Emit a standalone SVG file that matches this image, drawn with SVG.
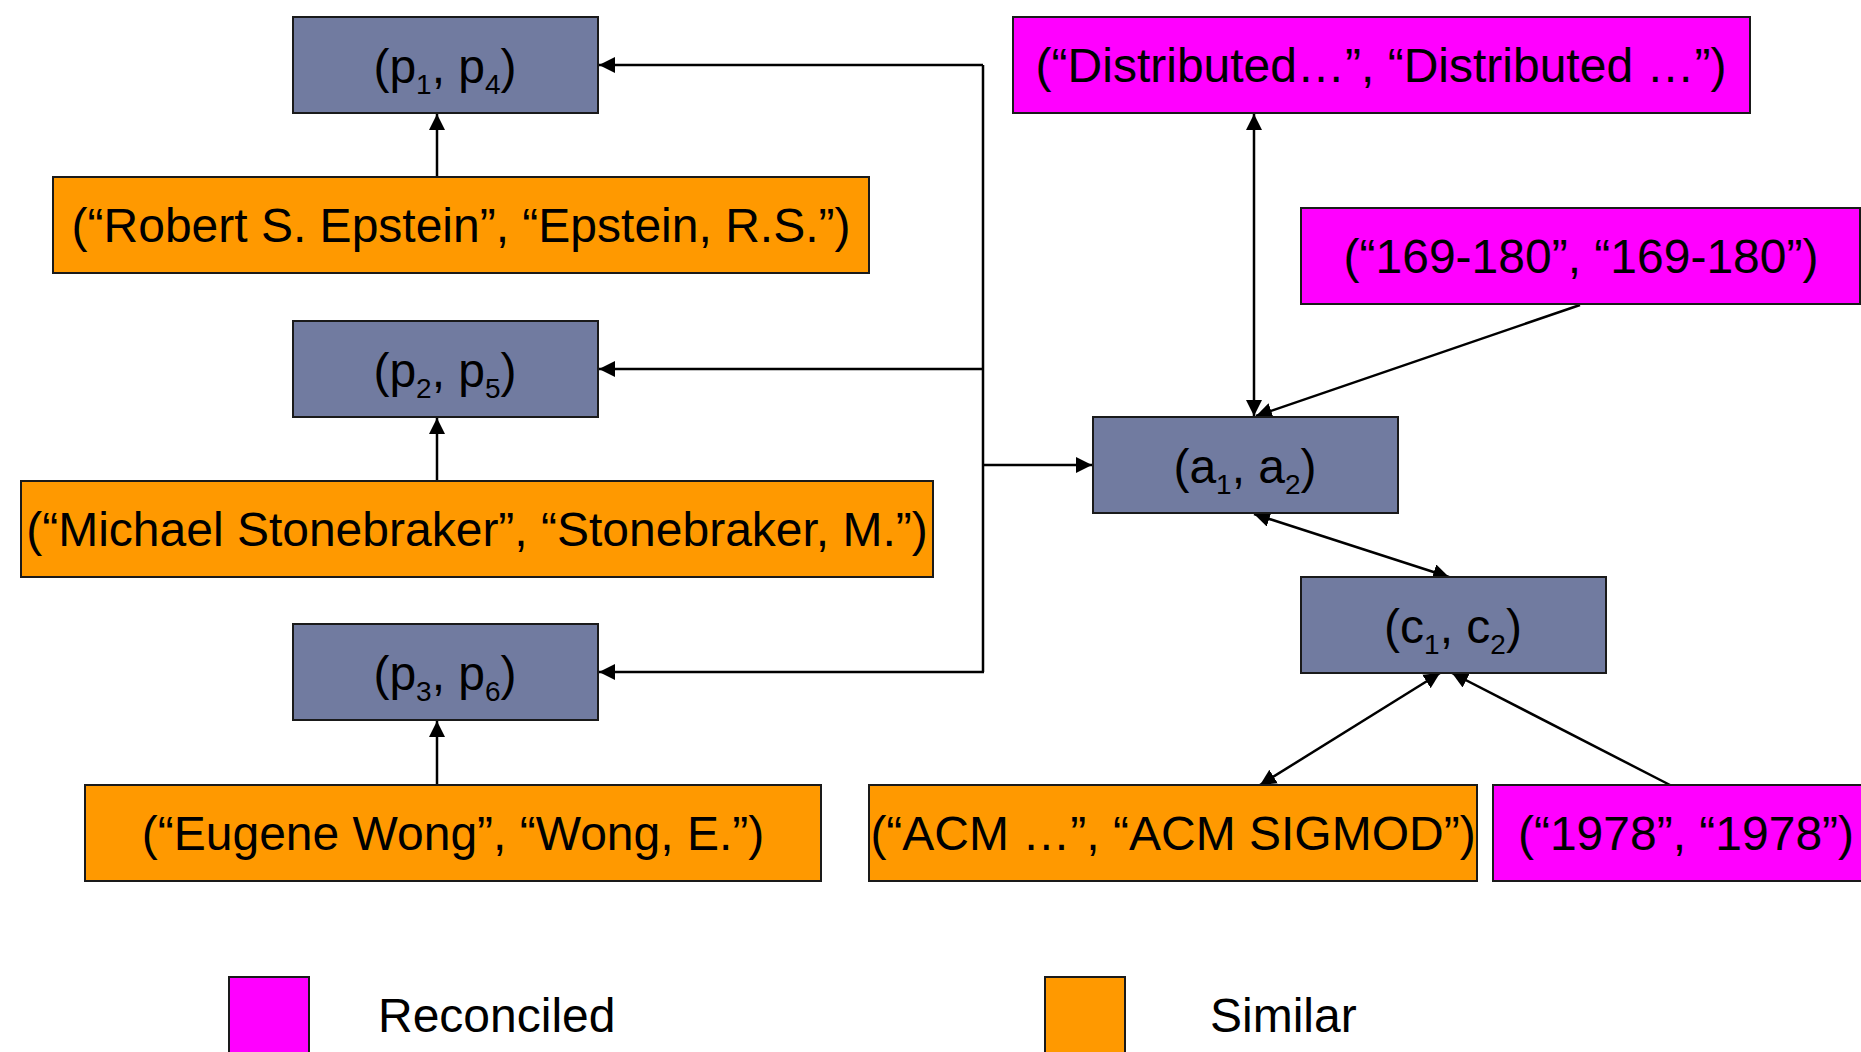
<svg xmlns="http://www.w3.org/2000/svg" width="1861" height="1052" viewBox="0 0 1861 1052">
<style>
  .box { stroke: #1a1a1a; stroke-width: 2; }
  .pair { fill: #717BA0; }
  .sim { fill: #FF9900; }
  .rec { fill: #FF00FF; }
  text { font-family: "Liberation Sans", Arial, sans-serif; fill: #000; }
  .lbl { font-size: 48px; text-anchor: middle; }
  .pl { font-size: 48px; text-anchor: middle; }
  .sub { font-size: 28px; }
  .leg { font-size: 48px; }
  .conn { stroke: #000; stroke-width: 2.5; fill: none; }
</style>
<defs>
  <marker id="ah" markerUnits="userSpaceOnUse" markerWidth="18" markerHeight="16" refX="16" refY="8" orient="auto-start-reverse" viewBox="0 0 18 16">
    <path d="M0,0 L16,8 L0,16 Z" fill="#000"/>
  </marker>
</defs>
<rect width="1861" height="1052" fill="#fff"/>

<g id="connectors">
  <line class="conn" x1="437" y1="177" x2="437" y2="114" marker-end="url(#ah)"/>
  <line class="conn" x1="437" y1="481" x2="437" y2="418" marker-end="url(#ah)"/>
  <line class="conn" x1="437" y1="785" x2="437" y2="721" marker-end="url(#ah)"/>
  <polyline class="conn" points="983,65 983,672"/>
  <line class="conn" x1="983" y1="65" x2="599" y2="65" marker-end="url(#ah)"/>
  <line class="conn" x1="983" y1="369" x2="599" y2="369" marker-end="url(#ah)"/>
  <line class="conn" x1="984" y1="672" x2="599" y2="672" marker-end="url(#ah)"/>
  <line class="conn" x1="983" y1="465" x2="1092" y2="465" marker-end="url(#ah)"/>
  <line class="conn" x1="1254" y1="114" x2="1254" y2="416" marker-start="url(#ah)" marker-end="url(#ah)"/>
  <line class="conn" x1="1580" y1="305" x2="1256" y2="416" marker-end="url(#ah)"/>
  <line class="conn" x1="1254" y1="514" x2="1449" y2="577" marker-start="url(#ah)" marker-end="url(#ah)"/>
  <line class="conn" x1="1260" y1="785" x2="1440" y2="673" marker-start="url(#ah)" marker-end="url(#ah)"/>
  <line class="conn" x1="1670" y1="785" x2="1452" y2="673" marker-end="url(#ah)"/>
</g>

<g id="p1p4">
  <rect class="box pair" x="293" y="17" width="305" height="96"/>
  <text class="pl" x="445" y="83">(p<tspan class="sub" dy="11">1</tspan><tspan dy="-11">, p</tspan><tspan class="sub" dy="11">4</tspan><tspan dy="-11">)</tspan></text>
</g>
<g id="robert">
  <rect class="box sim" x="53" y="177" width="816" height="96"/>
  <text class="lbl" x="461" y="242">(“Robert S. Epstein”, “Epstein, R.S.”)</text>
</g>
<g id="p2p5">
  <rect class="box pair" x="293" y="321" width="305" height="96"/>
  <text class="pl" x="445" y="387">(p<tspan class="sub" dy="11">2</tspan><tspan dy="-11">, p</tspan><tspan class="sub" dy="11">5</tspan><tspan dy="-11">)</tspan></text>
</g>
<g id="michael">
  <rect class="box sim" x="21" y="481" width="912" height="96"/>
  <text class="lbl" x="477" y="546">(“Michael Stonebraker”, “Stonebraker, M.”)</text>
</g>
<g id="p3p6">
  <rect class="box pair" x="293" y="624" width="305" height="96"/>
  <text class="pl" x="445" y="690">(p<tspan class="sub" dy="11">3</tspan><tspan dy="-11">, p</tspan><tspan class="sub" dy="11">6</tspan><tspan dy="-11">)</tspan></text>
</g>
<g id="eugene">
  <rect class="box sim" x="85" y="785" width="736" height="96"/>
  <text class="lbl" x="453" y="850">(“Eugene Wong”, “Wong, E.”)</text>
</g>
<g id="distributed">
  <rect class="box rec" x="1013" y="17" width="737" height="96"/>
  <text class="lbl" x="1381" y="82">(“Distributed…”, “Distributed …”)</text>
</g>
<g id="pages">
  <rect class="box rec" x="1301" y="208" width="559" height="96"/>
  <text class="lbl" x="1581" y="273">(“169-180”, “169-180”)</text>
</g>
<g id="a1a2">
  <rect class="box pair" x="1093" y="417" width="305" height="96"/>
  <text class="pl" x="1245" y="483">(a<tspan class="sub" dy="11">1</tspan><tspan dy="-11">, a</tspan><tspan class="sub" dy="11">2</tspan><tspan dy="-11">)</tspan></text>
</g>
<g id="c1c2">
  <rect class="box pair" x="1301" y="577" width="305" height="96"/>
  <text class="pl" x="1453" y="643">(c<tspan class="sub" dy="11">1</tspan><tspan dy="-11">, c</tspan><tspan class="sub" dy="11">2</tspan><tspan dy="-11">)</tspan></text>
</g>
<g id="acm">
  <rect class="box sim" x="869" y="785" width="608" height="96"/>
  <text class="lbl" x="1173" y="850">(“ACM …”, “ACM SIGMOD”)</text>
</g>
<g id="year">
  <rect class="box rec" x="1493" y="785" width="390" height="96"/>
  <text class="lbl" x="1686" y="850">(“1978”, “1978”)</text>
</g>

<g id="legend-reconciled">
  <rect class="box rec" x="229" y="977" width="80" height="90"/>
  <text class="leg" x="378" y="1032">Reconciled</text>
</g>
<g id="legend-similar">
  <rect class="box sim" x="1045" y="977" width="80" height="90"/>
  <text class="leg" x="1210" y="1032">Similar</text>
</g>
</svg>
